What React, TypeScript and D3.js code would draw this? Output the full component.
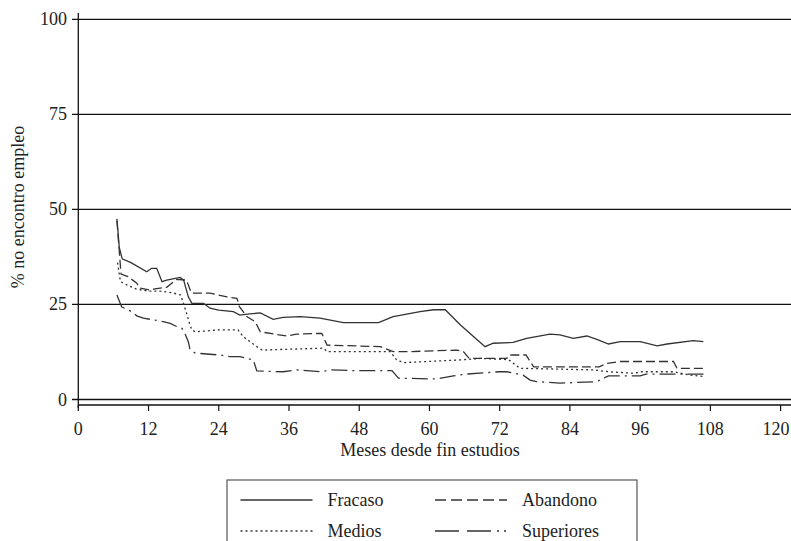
import React from "react";
import * as d3 from "d3";

const W = 791;
const H = 541;

const xTicks = [0, 12, 24, 36, 48, 60, 72, 84, 96, 108, 120];
const yTicks = [0, 25, 50, 75, 100];

const fracaso: [number, number][] = [
  [6.6, 47.5], [7.0, 40], [7.5, 37], [9, 36], [11.7, 33.6], [12.5, 34.5], [13.4, 34.5],
  [14.3, 31], [15.1, 31.4], [17.4, 32.1], [18, 31.4], [18.8, 27], [19.4, 25.3], [21.4, 25.3],
  [22.5, 24], [24, 23.5], [26.5, 23.1], [27.6, 22.2], [29.3, 22.5], [31.1, 22.8], [33.3, 21.1],
  [35, 21.6], [37.9, 21.8], [41.3, 21.4], [45.3, 20.2], [51.3, 20.2], [53.8, 21.8], [58.4, 23.1],
  [60.7, 23.6], [62.7, 23.6], [65.3, 19.6], [69.5, 13.9], [70.9, 14.8], [74.3, 15], [76.6, 16.1],
  [80.6, 17.2], [82.3, 17], [84.6, 16.1], [86.9, 16.7], [88.6, 15.8], [90.6, 14.6], [92.6, 15.2],
  [96, 15.2], [98.9, 14.1], [100.6, 14.6], [105.1, 15.5], [106.8, 15.2],
];

const abandono: [number, number][] = [
  [6.6, 47], [7.3, 33], [8.5, 32.3], [10, 30.6], [10.5, 29.3], [12.3, 28.8], [13.1, 29.1],
  [15.1, 29.5], [16.8, 31.6], [18.5, 31.4], [19.3, 28], [20.8, 28], [22.5, 28], [23.9, 27.5],
  [25.4, 27], [27.1, 26.6], [27.5, 24.5], [28.8, 21.8], [30.2, 20.5], [31.1, 17.8], [35.6, 16.7],
  [37.3, 17.2], [41.6, 17.4], [42.5, 14.3], [51.6, 13.9], [53.8, 12.6], [56.7, 12.6], [64.7, 13],
  [65.8, 12.6], [66.8, 10.8], [73.2, 10.8], [73.6, 11.7], [76.5, 11.7], [77.8, 8.6], [89, 8.6],
  [90.3, 9.5], [92.6, 10], [101.7, 10], [102.3, 8.2], [107.1, 8.2],
];

const medios: [number, number][] = [
  [6.7, 36], [7.2, 31], [8.5, 30], [10, 29], [12, 28.5], [14, 28.5], [16, 28.1], [17.5, 27.5],
  [18.5, 22.7], [19, 20], [19.4, 18.3], [20, 17.8], [24, 18.3], [27.3, 18.3], [28.2, 16.5],
  [30.5, 13.9], [31.4, 13], [41.9, 13.5], [42.5, 12.6], [53.3, 12.6], [54.4, 10.4], [55.6, 9.7],
  [65.2, 10.4], [68.7, 10.8], [73.5, 10.5], [75.5, 8.2], [88, 7.8], [90.6, 7.3], [94.9, 6.9],
  [96.3, 7.3], [101.7, 7.3], [104.5, 6.4], [107.1, 6],
];

const superiores: [number, number][] = [
  [6.6, 27.5], [7.4, 24.4], [9.1, 23.1], [10, 22], [11.1, 21.4], [14.5, 20.5], [15.7, 20],
  [16.8, 19.2], [17.7, 18.7], [18.2, 17.4], [18.8, 15.2], [19.1, 13], [20, 12.2], [24.2, 11.7],
  [25.9, 11.3], [27.6, 11.3], [29.9, 10.4], [30.5, 7.5], [35, 7.3], [37.3, 7.8], [41.3, 7.3],
  [43.3, 7.8], [47, 7.6], [53.6, 7.6], [54.7, 5.6], [61.3, 5.4], [64.1, 6.2], [66.4, 6.7],
  [71.9, 7.3], [73.2, 7.3], [76, 6.4], [77.2, 5.1], [78.3, 4.7], [82.3, 4.3], [88.6, 4.7],
  [89.7, 5.6], [90.6, 6.2], [96, 6.2], [97, 6.7], [107, 6.7],
];

const seriesNames = ["Fracaso", "Abandono", "Medios", "Superiores"];
const seriesData = [fracaso, abandono, medios, superiores];
const seriesDash = ["none", "9,4", "2,3", "16,5,2,5"];

const FONT = "'Liberation Serif', 'DejaVu Serif', serif";

export default function App() {
  const x = d3.scaleLinear().domain([0, 120]).range([78.3, 780.6]);
  const y = d3.scaleLinear().domain([0, 100]).range([399.5, 19.3]);
  const line = d3
    .line<[number, number]>()
    .x((d) => x(d[0]))
    .y((d) => y(d[1]));

  const axisY = 405;
  const legendX = 227;
  const legendY = 480;

  return (
    <svg
      width={W}
      height={H}
      style={{ position: "absolute", left: 0, top: 0, background: "#fff" }}
      fontFamily={FONT}
    >
      {yTicks.map((t) => (
        <line key={t} x1={72} x2={W} y1={y(t)} y2={y(t)} stroke="#111" strokeWidth={1.3} />
      ))}
      {yTicks.map((t) => (
        <text key={"yl" + t} x={67} y={y(t) + 6} textAnchor="end" fontSize={18} fill="#222">
          {t}
        </text>
      ))}
      <line x1={78.3} x2={78.3} y1={13} y2={408} stroke="#111" strokeWidth={1.3} />
      <line x1={78.3} x2={W} y1={axisY} y2={axisY} stroke="#111" strokeWidth={1.3} />
      {xTicks.map((t) => (
        <g key={"xt" + t}>
          <line x1={x(t)} x2={x(t)} y1={axisY} y2={axisY + 6} stroke="#111" strokeWidth={1.2} />
          <text
            x={Math.min(x(t), W - 15)}
            y={435}
            textAnchor="middle"
            fontSize={18}
            fill="#222"
          >
            {t}
          </text>
        </g>
      ))}
      <text x={430} y={456} textAnchor="middle" fontSize={18} fill="#222">
        Meses desde fin estudios
      </text>
      <text
        transform={`translate(24,${207}) rotate(-90)`}
        textAnchor="middle"
        fontSize={18}
        fill="#222"
      >
        % no encontro empleo
      </text>

      {seriesData.map((s, i) => (
        <path
          key={seriesNames[i]}
          d={line(s) || ""}
          fill="none"
          stroke="#333"
          strokeWidth={1.3}
          strokeDasharray={seriesDash[i]}
        />
      ))}

      <rect
        x={legendX}
        y={legendY}
        width={410}
        height={80}
        fill="#fff"
        stroke="#555"
        strokeWidth={1.2}
      />
      {seriesNames.map((n, i) => {
        const col = i % 2;
        const row = Math.floor(i / 2);
        const lx = col === 0 ? 240.5 : 435;
        const ly = row === 0 ? 500 : 531;
        return (
          <g key={"lg" + n}>
            <line
              x1={lx}
              x2={lx + 72}
              y1={ly}
              y2={ly}
              stroke="#333"
              strokeWidth={1.3}
              strokeDasharray={i === 1 ? "11,5" : i === 2 ? "2,3" : i === 3 ? "24,8,24,6,2,5,2,5" : "none"}
            />
            <text x={lx + 87} y={ly + 6} fontSize={18} fill="#222">
              {n}
            </text>
          </g>
        );
      })}
    </svg>
  );
}
